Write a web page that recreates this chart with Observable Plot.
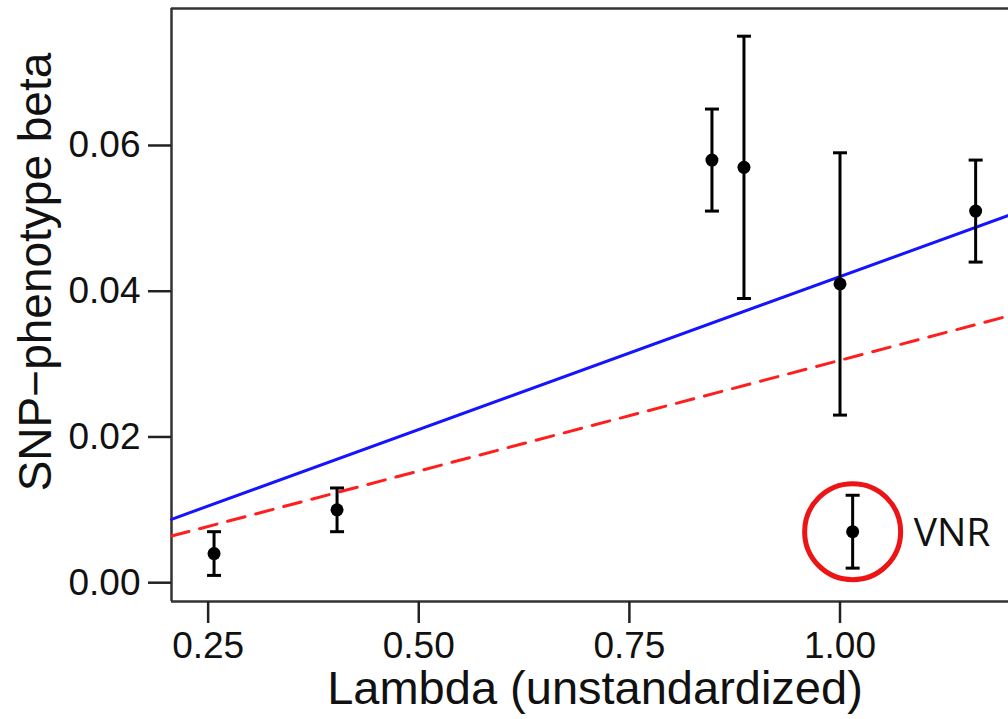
<!DOCTYPE html>
<html>
<head>
<meta charset="utf-8">
<script src="https://cdn.jsdelivr.net/npm/d3@7"></script>
<script src="https://cdn.jsdelivr.net/npm/@observablehq/plot@0.6"></script>
<style>
  html, body { margin: 0; padding: 0; background: #fff; }
  #chart svg { display: block; }
</style>
</head>
<body>
<div id="chart"></div>
<script>
// ---- data ----
const lambda = [0.257, 0.403, 0.848, 0.886, 1.000, 1.161, 1.015];
const beta   = [0.004, 0.010, 0.058, 0.057, 0.041, 0.051, 0.007];
const betaLo = [0.001, 0.007, 0.051, 0.039, 0.023, 0.044, 0.002];
const betaHi = [0.007, 0.013, 0.065, 0.075, 0.059, 0.058, 0.012];
const labels = ["", "", "", "", "", "", "VNR"];

// fitted lines (endpoints at the x-domain limits)
const lineX   = [0.2065, 1.2];
const blueY   = [0.0087, 0.0504];
const redY    = [0.0064, 0.0366];

const xTicks = [0.25, 0.50, 0.75, 1.00];
const yTicks = [0.00, 0.02, 0.04, 0.06];

const xDomain = [0.2065, 1.2];
const yDomain = [-0.00258, 0.0788];

const xTitle = "Lambda (unstandardized)";
const yTitle = "SNP\u2212phenotype beta";

// ---- tables built from the arrays ----
const points = lambda.map((x, i) => ({x, y: beta[i], lo: betaLo[i], hi: betaHi[i], label: labels[i]}));
const highlighted = points.filter(d => d.label !== "");
const blueLine = lineX.map((x, i) => ({x, y: blueY[i]}));
const redLine = lineX.map((x, i) => ({x, y: redY[i]}));

const cap = { draw(ctx) { ctx.moveTo(-7, 0); ctx.lineTo(7, 0); } };
const font = "'Liberation Sans', Arial, Helvetica, sans-serif";

const chart = Plot.plot({
  width: 1008,
  height: 719,
  marginLeft: 171,
  marginRight: 0,
  marginTop: 8,
  marginBottom: 118,
  style: { fontFamily: font, background: "#fff", color: "#111" },
  x: { domain: xDomain },
  y: { domain: yDomain },
  marks: [
    // frame: left, top, bottom (right edge is outside the picture)
    Plot.ruleX([xDomain[0]], { stroke: "#333", strokeWidth: 2.5 }),
    Plot.ruleY([yDomain[0], yDomain[1]], { stroke: "#333", strokeWidth: 2.5 }),
    // axes
    Plot.axisX({ ticks: xTicks, tickFormat: d3.format(".2f"), tickSize: 22, tickPadding: 8,
                 fontSize: 37, strokeWidth: 2.5, stroke: "#222", fill: "#111", label: null }),
    Plot.axisY({ ticks: yTicks, tickFormat: d3.format(".2f"), tickSize: 23, tickPadding: 8,
                 fontSize: 37, strokeWidth: 2.5, stroke: "#222", fill: "#111", label: null }),
    // fitted lines
    Plot.line(blueLine, { x: "x", y: "y", stroke: "#1414ff", strokeWidth: 3 }),
    Plot.line(redLine, { x: "x", y: "y", stroke: "#ff1e1e", strokeWidth: 3, strokeDasharray: "18,11" }),
    // error bars
    Plot.ruleX(points, { x: "x", y1: "lo", y2: "hi", stroke: "#000", strokeWidth: 3 }),
    Plot.dot(points, { x: "x", y: "lo", symbol: cap, stroke: "#000", strokeWidth: 3, fill: null }),
    Plot.dot(points, { x: "x", y: "hi", symbol: cap, stroke: "#000", strokeWidth: 3, fill: null }),
    Plot.dot(points, { x: "x", y: "y", r: 6.5, fill: "#000" }),
    // highlight circle and label
    Plot.dot(highlighted, { x: "x", y: "y", r: 48, stroke: "#ec1414", strokeWidth: 5, fill: "none" }),
    Plot.text(highlighted, { x: "x", y: "y", text: "label", textAnchor: "start", dx: 61, dy: 2,
                             fontSize: 39, fontFamily: "'Open Sans', sans-serif", fill: "#111" }),
    // axis titles
    Plot.text([xTitle], { frameAnchor: "bottom", dx: 5, dy: 102, lineAnchor: "bottom", fontSize: 47, fill: "#111" }),
    Plot.text([yTitle], { frameAnchor: "left", rotate: -90, dx: -121, dy: -33, lineAnchor: "bottom",
                          textAnchor: "middle", fontSize: 46, fill: "#111" })
  ]
});
document.getElementById("chart").appendChild(chart);
</script>
</body>
</html>
